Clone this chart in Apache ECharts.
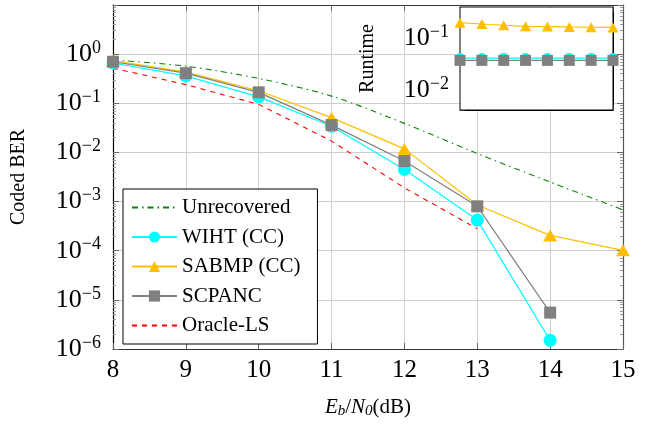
<!DOCTYPE html>
<html>
<head>
<meta charset="utf-8">
<script src="https://cdn.jsdelivr.net/npm/echarts@6/dist/echarts.min.js"></script>
<style>
html, body { margin: 0; padding: 0; background: #fff; }
#chart { width: 648px; height: 424px; }
</style>
</head>
<body>
<div id="chart"></div>
<script>
// Eb/N0 points (dB)
const ebn0 = [8, 9, 10, 11, 12, 13, 14, 15];
// coded BER per method
const unrecovered = [0.76, 0.57, 0.32, 0.14, 0.039, 0.0095, 0.0025, 0.00068];
const wiht = [0.66, 0.36, 0.135, 0.034, 0.0045, 0.00042, 0.0000015, null];
const sabmp = [0.74, 0.43, 0.18, 0.051, 0.0118, 0.00085, 0.000205, 0.000102];
const scpanc = [0.70, 0.41, 0.167, 0.036, 0.0067, 0.0008, 0.0000055, null];
const oracle = [0.52, 0.24, 0.095, 0.017, 0.0019, 0.00028, null, null];
// runtime inset
const rtSabmp = [0.197, 0.186, 0.176, 0.168, 0.166, 0.163, 0.161, 0.160];
const rtWiht = [0.041, 0.041, 0.041, 0.041, 0.041, 0.041, 0.041, 0.041];
const rtScpanc = [0.037, 0.037, 0.037, 0.037, 0.037, 0.037, 0.037, 0.037];

const FONT = 'Liberation Serif';
const pairs = (ys) => ebn0.map((x, i) => [x, ys[i]]);

function powLabel(v) {
  const l = Math.log10(v);
  const e = Math.round(l);
  if (Math.abs(l - e) > 1e-6 || e === 1) return '';
  return '{b|10}{s|' + (e < 0 ? '\u2212' + (-e) : e) + '}';
}
const powRich = {
  b: { fontFamily: FONT, fontSize: 26, color: '#000', lineHeight: 30 },
  s: { fontFamily: FONT, fontSize: 18, color: '#000', lineHeight: 18, verticalAlign: 'top' }
};

const gridLine = { show: true, lineStyle: { color: '#cfcfcf', width: 1 } };
const minor = { show: true, splitNumber: 9, length: 3, lineStyle: { color: '#999' } };

const chart = echarts.init(document.getElementById('chart'));
chart.setOption({
  animation: false,
  grid: [
    { left: 113, right: 25, top: 5, bottom: 71 },
    { left: 460, top: 7, width: 153, height: 103, show: true, backgroundColor: '#fff', borderColor: '#000', borderWidth: 1, z: 5 }
  ],
  legend: {
    left: 123, top: 189, orient: 'vertical',
    backgroundColor: '#fff', borderColor: '#000', borderWidth: 1,
    padding: [8, 17, 8, 8], itemGap: 8.5, itemWidth: 45, itemHeight: 14,
    textStyle: { fontFamily: FONT, fontSize: 21, color: '#000', lineHeight: 20 },
    data: [
      { name: 'Unrecovered', itemStyle: { opacity: 0 } },
      'WIHT (CC)', 'SABMP (CC)', 'SCPANC',
      { name: 'Oracle-LS', itemStyle: { opacity: 0 } }
    ],
    z: 10
  },
  xAxis: [
    {
      gridIndex: 0, type: 'value', min: 8, max: 15, interval: 1,
      name: '{i|E}{sb|b}{n|/}{i|N}{sb|0}{n|(dB)}', nameLocation: 'middle', nameGap: 46,
      nameTextStyle: { rich: {
        i: { fontFamily: FONT, fontStyle: 'italic', fontSize: 21, color: '#000', lineHeight: 24 },
        n: { fontFamily: FONT, fontSize: 21, color: '#000', lineHeight: 24 },
        sb: { fontFamily: FONT, fontStyle: 'italic', fontSize: 15, color: '#000', lineHeight: 14, verticalAlign: 'bottom' }
      } },
      axisLine: { lineStyle: { color: '#333', width: 1.2 } },
      axisTick: { inside: true, length: 6, lineStyle: { color: '#666' } },
      axisLabel: { fontFamily: FONT, fontSize: 25, color: '#000', margin: 9 },
      splitLine: gridLine
    },
    {
      gridIndex: 0, type: 'value', min: 8, max: 15, interval: 1, position: 'top',
      axisLine: { lineStyle: { color: '#333', width: 1.2 } },
      axisTick: { inside: true, length: 6, lineStyle: { color: '#666' } },
      axisLabel: { show: false }, splitLine: { show: false }
    },
    {
      gridIndex: 1, type: 'value', min: 8, max: 15, interval: 1,
      axisLine: { lineStyle: { color: '#000' } },
      axisTick: { inside: true, length: 5, lineStyle: { color: '#666' } },
      axisLabel: { show: false }, splitLine: gridLine
    },
    {
      gridIndex: 1, type: 'value', min: 8, max: 15, interval: 1, position: 'top',
      axisLine: { lineStyle: { color: '#000' } },
      axisTick: { inside: true, length: 5, lineStyle: { color: '#666' } },
      axisLabel: { show: false }, splitLine: { show: false }
    }
  ],
  yAxis: [
    {
      gridIndex: 0, type: 'log', min: 1e-6, max: 10,
      name: 'Coded BER', nameLocation: 'middle', nameGap: 84, nameRotate: 90,
      nameTextStyle: { fontFamily: FONT, fontSize: 20, color: '#000' },
      axisLine: { show: true, lineStyle: { color: '#000', width: 1.2 } },
      axisTick: { inside: true, length: 6, lineStyle: { color: '#666' } },
      minorTick: minor,
      axisLabel: { formatter: powLabel, rich: powRich, margin: 12 },
      splitLine: gridLine
    },
    {
      gridIndex: 0, type: 'log', min: 1e-6, max: 10, position: 'right',
      axisLine: { show: true, lineStyle: { color: '#555', width: 1.2 } },
      axisTick: { inside: true, length: 6, lineStyle: { color: '#666' } },
      minorTick: minor,
      axisLabel: { show: false }, splitLine: { show: false }
    },
    {
      gridIndex: 1, type: 'log', min: 0.0041, max: 0.395,
      name: 'Runtime', nameLocation: 'middle', nameGap: 82, nameRotate: 90,
      nameTextStyle: { fontFamily: FONT, fontSize: 20, color: '#000' },
      axisLine: { show: true, lineStyle: { color: '#000' } },
      axisTick: { inside: true, length: 5, lineStyle: { color: '#666' } },
      minorTick: minor,
      axisLabel: { formatter: powLabel, rich: powRich, margin: 11 },
      splitLine: gridLine
    },
    {
      gridIndex: 1, type: 'log', min: 0.0041, max: 0.395, position: 'right',
      axisLine: { show: true, lineStyle: { color: '#000' } },
      axisTick: { show: false }, axisLabel: { show: false }, splitLine: { show: false }
    }
  ],
  series: [
    {
      name: 'Unrecovered', type: 'line', xAxisIndex: 0, yAxisIndex: 0, data: pairs(unrecovered),
      symbol: 'none', smooth: 0.3, lineStyle: { color: '#0a820a', width: 1.1, type: [6, 4, 1.5, 4] },
      itemStyle: { color: '#0a820a' }
    },
    {
      name: 'WIHT (CC)', type: 'line', xAxisIndex: 0, yAxisIndex: 0, data: pairs(wiht),
      symbol: 'circle', symbolSize: 13, lineStyle: { color: '#00ffff', width: 1.2 },
      itemStyle: { color: '#00ffff' }
    },
    {
      name: 'SABMP (CC)', type: 'line', xAxisIndex: 0, yAxisIndex: 0, data: pairs(sabmp),
      symbol: 'triangle', symbolSize: [14, 12], lineStyle: { color: '#ffbf00', width: 1.2 },
      itemStyle: { color: '#ffbf00' }
    },
    {
      name: 'SCPANC', type: 'line', xAxisIndex: 0, yAxisIndex: 0, data: pairs(scpanc),
      symbol: 'rect', symbolSize: 12, lineStyle: { color: '#808080', width: 1.2 },
      itemStyle: { color: '#808080' }
    },
    {
      name: 'Oracle-LS', type: 'line', xAxisIndex: 0, yAxisIndex: 0, data: pairs(oracle),
      symbol: 'none', lineStyle: { color: '#ff0000', width: 1.1, type: [5, 5] },
      itemStyle: { color: '#ff0000' }
    },
    {
      name: 'WIHT (CC)', type: 'line', xAxisIndex: 2, yAxisIndex: 2, data: pairs(rtWiht),
      symbol: 'circle', symbolSize: 10, lineStyle: { color: '#00ffff', width: 1.2 },
      itemStyle: { color: '#00ffff' }, z: 6
    },
    {
      name: 'SABMP (CC)', type: 'line', xAxisIndex: 2, yAxisIndex: 2, data: pairs(rtSabmp),
      symbol: 'triangle', symbolSize: [11, 10], lineStyle: { color: '#ffbf00', width: 1.2 },
      itemStyle: { color: '#ffbf00' }, z: 6
    },
    {
      name: 'SCPANC', type: 'line', xAxisIndex: 2, yAxisIndex: 2, data: pairs(rtScpanc),
      symbol: 'rect', symbolSize: 11, lineStyle: { color: '#808080', width: 1.2 },
      itemStyle: { color: '#808080' }, z: 6
    }
  ]
});
</script>
</body>
</html>
